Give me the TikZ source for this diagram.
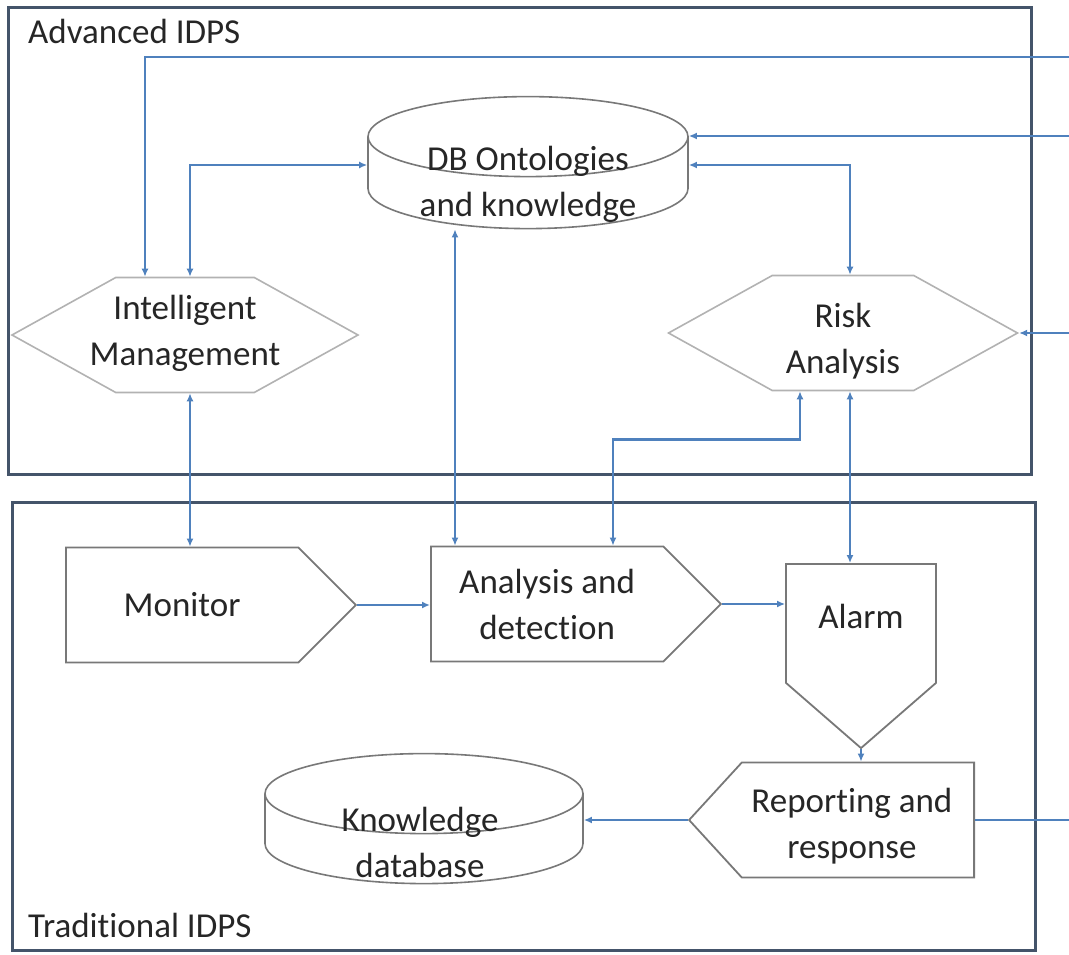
\documentclass[tikz,border=0pt]{standalone}
\usepackage{fontspec}
\setmainfont[Ligatures=NoCommon]{Carlito}
\usetikzlibrary{arrows.meta,shapes.symbols,shapes.geometric}
\definecolor{framecol}{RGB}{68,84,106}
\definecolor{linecol}{RGB}{79,129,189}
\definecolor{shapecol}{RGB}{120,120,120}
\definecolor{hexcol}{RGB}{178,178,178}
\definecolor{txtcol}{RGB}{38,38,38}
\tikzset{
	frame/.style={draw=framecol, line width=3pt},
	conn/.style={draw=linecol, line width=2.8pt, >={Latex[length=8pt,width=7pt]}},
	txt/.style={font=\fontsize{35}{46}\selectfont, text=txtcol, align=center, inner sep=0pt},
	hex/.style={signal, signal to=east and west, signal pointer angle=58, draw=hexcol, line width=1.6pt, fill=white, txt, minimum height=115pt},
	penta/.style={signal, draw=shapecol, line width=1.8pt, fill=white, txt, minimum height=115pt},
	dbase/.style={cylinder, shape border rotate=90, aspect=0.5, draw=shapecol, line width=1.6pt, fill=white, inner sep=0pt}
}
\begin{document}
\begin{tikzpicture}[x=1pt, y=-1pt]
	\useasboundingbox (0,0) rectangle (1069,955);
	\draw[frame] (8,8) rectangle (1031,474);
	\draw[frame] (12,502) rectangle (1035,950);
	\node[txt, anchor=west] (adv) at (28,31) {Advanced IDPS};
	\node[txt, anchor=west] (trad) at (28,925) {Traditional IDPS};

	\node[dbase, minimum width=320pt, minimum height=132pt] (onto) at (528,183) {\hspace*{160pt}};
	\node[txt] (ontotxt) at ([yshift=-1pt]onto.center) {DB Ontologies\\and knowledge};
	\node[hex, minimum width=346pt] (im) at (185,335) {};
	\node[txt] (imtxt) at ([yshift=2pt]im.center) {Intelligent\\Management};
	\node[hex, minimum width=349pt] (risk) at (843,333) {};
	\node[txt] (risktxt) at ([yshift=-8pt]risk.center) {Risk\\Analysis};
	\node[penta, minimum width=290pt, anchor=west] (mon) at (65,605) {Monitor};
	\node[penta, minimum width=290pt, anchor=west] (ana) at (430,604) {Analysis and\\detection};
	\node[penta, signal to=south, signal pointer angle=98, minimum width=150pt, minimum height=119pt, anchor=north] (alarm) at (861,563) {};
	\node[txt] (alarmtxt) at (861,616) {Alarm};
	\node[penta, signal to=west, signal pointer angle=95, minimum width=285pt, anchor=east] (rep) at (975,820) {};
	\node[txt] (reptxt) at ([xshift=-6pt,yshift=-6pt]rep.center) {Reporting and\\response};
	\node[dbase, minimum width=318pt, minimum height=130pt] (kdb) at (424,839) {\hspace*{160pt}};
	\node[txt] (kdbtxt) at ([xshift=-4pt,yshift=-3pt]kdb.center) {Knowledge\\database};

	\coordinate (out1) at (1069,57);
	\coordinate (out2) at (1069,136);
	\coordinate (out3) at (1069,333);
	\coordinate (out4) at (1069,820);

	\draw[conn,->] (out1) -| ([xshift=-40pt]im.north);
	\draw[conn,->] (out2) -- (onto.east |- out2);
	\draw[conn,->] (out3) -- (risk.east);
	\draw[conn] (rep.east) -- (out4);
	\draw[conn,<->] ([xshift=5pt]im.north) |- ([yshift=18pt]onto.west);
	\draw[conn,<->] ([yshift=18pt]onto.east) -| ([xshift=7pt]risk.north);
	\draw[conn,<->] ([xshift=5pt]im.south) -- ([xshift=5pt]im.south |- mon.north);
	\draw[conn,<->] (onto.south -| 455,0) -- (ana.north -| 455,0);
	\draw[conn,<->] (ana.north -| 613,0) -- ++(0,-106) -| ([xshift=-43pt]risk.south);
	\draw[conn,<->] ([xshift=7pt]risk.south) -- ([xshift=7pt]risk.south |- alarm.north);
	\draw[conn,->] (mon.east) -- (ana.west |- mon.east);
	\draw[conn,->] (ana.east) -- (alarm.west |- ana.east);
	\draw[conn,->] (alarm.south) -- (alarm.south |- rep.north);
	\draw[conn,->] (rep.west) -- (kdb.east |- rep.west);
\end{tikzpicture}
\end{document}
